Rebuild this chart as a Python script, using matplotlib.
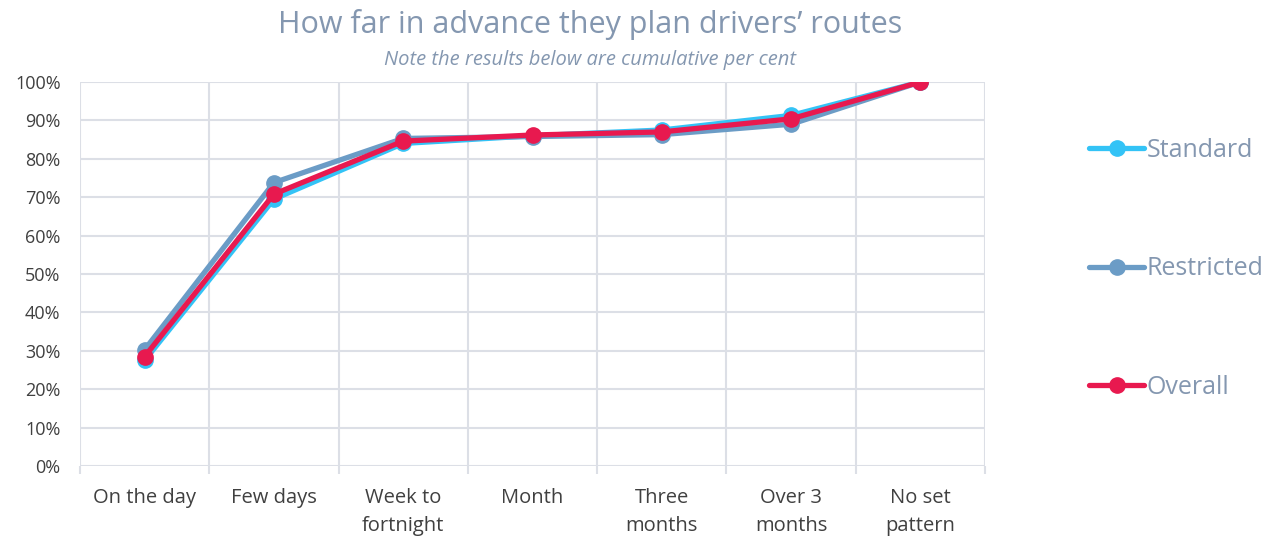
import matplotlib.pyplot as plt
from matplotlib.ticker import FixedLocator, PercentFormatter

plt.rcParams['font.family'] = ['Open Sans', 'DejaVu Sans']

categories = ['On the day', 'Few days', 'Week to\nfortnight', 'Month',
              'Three\nmonths', 'Over 3\nmonths', 'No set\npattern']
standard = [27.5, 69.5, 84.0, 86.0, 87.5, 91.3, 100.0]
restricted = [30.3, 73.8, 85.3, 85.8, 86.3, 89.0, 100.0]
overall = [28.5, 70.8, 84.6, 86.2, 87.0, 90.4, 100.0]

series = [('Standard', standard, '#33c3f6'),
          ('Restricted', restricted, '#6b9cc6'),
          ('Overall', overall, '#e8194f')]

grid_col = '#dcdfe6'
text_col = '#404040'
title_col = '#8497b0'

fig = plt.figure(figsize=(12.66, 5.39), dpi=100)
ax = fig.add_axes([80 / 1266, 1 - 466 / 539, 905 / 1266, 384 / 539])

x = list(range(len(categories)))
for name, vals, col in series:
    ax.plot(x, vals, color=col, lw=3.8, marker='o', ms=11, label=name,
            solid_capstyle='round', solid_joinstyle='round')

ax.set_xlim(-0.5, len(categories) - 0.5)
ax.set_ylim(0, 100)
ax.set_yticks(range(0, 101, 10))
ax.yaxis.set_major_formatter(PercentFormatter(decimals=0))
ax.set_xticks(x)
ax.set_xticklabels(categories, linespacing=1.5)
ax.xaxis.set_minor_locator(FixedLocator([i - 0.5 for i in range(len(categories) + 1)]))

ax.grid(axis='y', which='major', color=grid_col, lw=1.5)
ax.grid(axis='x', which='minor', color=grid_col, lw=1.5)
ax.set_axisbelow(True)
for s in ax.spines.values():
    s.set_visible(False)

ax.tick_params(axis='y', length=0, pad=14, labelsize=13, labelcolor=text_col)
ax.tick_params(axis='x', which='major', length=0, pad=16, labelsize=14.5, labelcolor=text_col)
ax.tick_params(axis='x', which='minor', length=6, width=1.5, color=grid_col)

fig.text(590 / 1266, 1 - 24 / 539, 'How far in advance they plan drivers\u2019 routes',
         ha='center', va='center', fontsize=22, color=title_col)
fig.text(590 / 1266, 1 - 60 / 539, 'Note the results below are cumulative per cent',
         ha='center', va='center', fontsize=14.5, style='italic', color=title_col)

leg = fig.legend(loc='center left', bbox_to_anchor=(1079 / 1266, 1 - 269 / 539),
                 frameon=False, fontsize=18, handlelength=2.2, handletextpad=0.1,
                 labelspacing=3.75, borderaxespad=0)
for t in leg.get_texts():
    t.set_color(title_col)

fig.savefig('out.png', dpi=100)
